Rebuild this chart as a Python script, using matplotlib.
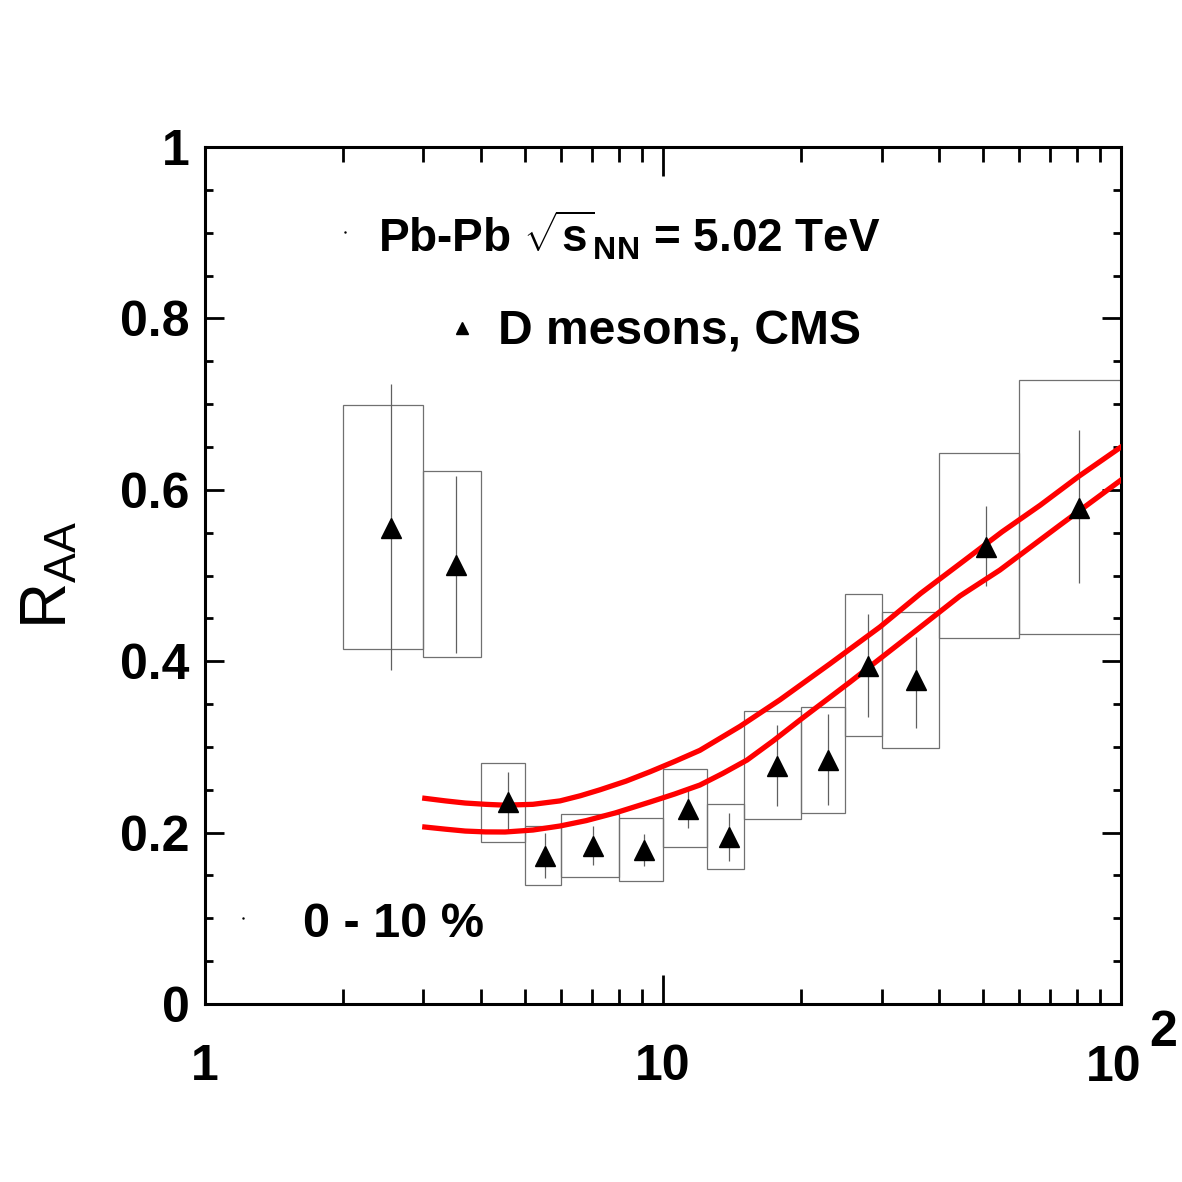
import matplotlib
matplotlib.use('Agg')
import matplotlib.pyplot as plt
from matplotlib.patches import Rectangle

plt.rcParams['font.family'] = ['Liberation Sans', 'DejaVu Sans']
plt.rcParams['mathtext.fontset'] = 'custom'
plt.rcParams['mathtext.rm'] = 'Liberation Sans'
plt.rcParams['mathtext.bf'] = 'Liberation Sans:bold'
plt.rcParams['mathtext.default'] = 'regular'

# D meson R_AA, CMS, 0-10 %
bin_lo = [2, 3, 4, 5, 6, 8, 10, 12.5, 15, 20, 25, 30, 40, 60]
bin_hi = [3, 4, 5, 6, 8, 10, 12.5, 15, 20, 25, 30, 40, 60, 100]
pt = [2.55, 3.53, 4.59, 5.53, 7.03, 9.09, 11.34, 13.94, 17.74, 22.9, 28.0, 35.7, 50.7, 81.0]
raa = [0.555, 0.512, 0.236, 0.173, 0.184, 0.180, 0.228, 0.195, 0.278, 0.285, 0.394, 0.378, 0.533, 0.579]
stat_lo = [0.390, 0.410, 0.203, 0.147, 0.162, 0.161, 0.205, 0.167, 0.231, 0.232, 0.335, 0.322, 0.488, 0.491]
stat_hi = [0.723, 0.616, 0.271, 0.200, 0.208, 0.198, 0.250, 0.223, 0.326, 0.338, 0.455, 0.428, 0.581, 0.670]
syst_lo = [0.414, 0.405, 0.189, 0.139, 0.148, 0.143, 0.183, 0.158, 0.216, 0.223, 0.313, 0.299, 0.427, 0.432]
syst_hi = [0.699, 0.622, 0.281, 0.208, 0.222, 0.217, 0.274, 0.233, 0.342, 0.347, 0.478, 0.457, 0.643, 0.728]

# model band (two red curves)
upper_pt = [3.02, 3.35, 3.70, 4.10, 4.52, 5.20, 5.96, 6.60, 7.29, 8.30, 9.37, 10.6, 12.04, 14.73,
            18.01, 23.15, 29.77, 36.5, 45.6, 55.0, 66.6, 81.0, 100]
upper_raa = [0.240, 0.237, 0.2345, 0.233, 0.232, 0.233, 0.237, 0.243, 0.250, 0.260, 0.271, 0.283,
             0.296, 0.324, 0.355, 0.397, 0.440, 0.479, 0.518, 0.551, 0.582, 0.616, 0.650]
lower_pt = [3.02, 3.35, 3.70, 4.10, 4.52, 5.20, 5.96, 6.80, 7.86, 9.37, 10.6, 12.04, 13.5, 15.26,
            17.4, 19.91, 25.61, 32.92, 44.5, 54.4, 73.6, 100]
lower_raa = [0.2065, 0.204, 0.2018, 0.2008, 0.2007, 0.203, 0.2077, 0.214, 0.2229, 0.2357, 0.245,
             0.2555, 0.269, 0.2847, 0.307, 0.3314, 0.3757, 0.4212, 0.4761, 0.5064, 0.5589, 0.6114]

yticks = [0, 0.2, 0.4, 0.6, 0.8, 1]
ytick_labels = ['0', '0.2', '0.4', '0.6', '0.8', '1']

fig = plt.figure(figsize=(11.82, 11.82), dpi=100)
ax = fig.add_axes([0.1734, 0.1506, 0.775, 0.725])
ax.set_xscale('log')

# systematic boxes
for lo, hi, slo, shi in zip(bin_lo, bin_hi, syst_lo, syst_hi):
    ax.add_patch(Rectangle((lo, slo), hi - lo, shi - slo, fill=False,
                           edgecolor='#707070', linewidth=0.9, zorder=2))

# statistical errors
ax.vlines(pt, stat_lo, stat_hi, color='#606060', linewidth=0.9, zorder=3)

# model curves
ax.plot(upper_pt, upper_raa, color='red', linewidth=3.8, zorder=4)
ax.plot(lower_pt, lower_raa, color='red', linewidth=3.8, zorder=4)

# data points
ax.plot(pt, raa, '^', color='black', markersize=14, zorder=5)

ax.set_xlim(1, 100)
ax.set_ylim(0, 1)

# ticks
ax.set_xticks([1, 10, 100], labels=['1', '10', ''])
ax.set_xticks([2, 3, 4, 5, 6, 7, 8, 9, 20, 30, 40, 50, 60, 70, 80, 90], minor=True)
ax.xaxis.set_minor_formatter(plt.NullFormatter())
ax.set_yticks(yticks, labels=ytick_labels)
ax.set_yticks([i * 0.05 for i in range(21)], minor=True)

ax.tick_params(which='both', direction='in', top=True, right=True, width=2)
ax.xaxis.set_tick_params(which='major', length=21, pad=29)
ax.xaxis.set_tick_params(which='minor', length=11)
ax.yaxis.set_tick_params(which='major', length=14, pad=11)
ax.yaxis.set_tick_params(which='minor', length=6)
for lab in ax.get_xticklabels() + ax.get_yticklabels():
    lab.set_fontsize(36)
    lab.set_fontweight('bold')
for sp in ax.spines.values():
    sp.set_linewidth(2.2)

# 10^2 label at the right end of x axis
fig.text(1114 / 1182, 1 - 1045 / 1182, '10', fontsize=36, fontweight='bold',
         ha='center', va='top')
fig.text(1149 / 1182, 1 - 1010 / 1182, '2', fontsize=36, fontweight='bold',
         ha='left', va='top')

# y axis title
fig.text(50 / 1182, 1 - 575 / 1182, r'R$_{AA}$', fontsize=46, rotation=90,
         ha='center', va='center')

# legend / annotations
fig.text(378 / 1182, 1 - 252 / 1182, r'Pb-Pb $\sqrt{s}_{NN}$ = 5.02 TeV',
         fontsize=33, fontweight='bold', ha='left', va='baseline')
fig.text(498 / 1182, 1 - 345 / 1182, 'D mesons, CMS',
         fontsize=34.6, fontweight='bold', ha='left', va='baseline')
fig.text(303 / 1182, 1 - 937 / 1182, '0 - 10 %',
         fontsize=35, fontweight='bold', ha='left', va='baseline')
ax.plot([462 / 1182], [1 - 328 / 1182], '^', color='black', markersize=8,
        transform=fig.transFigure, clip_on=False)
ax.plot([345 / 1182, 243 / 1182], [1 - 232 / 1182, 1 - 918 / 1182], '.',
        color='black', markersize=1.5, transform=fig.transFigure, clip_on=False)

fig.savefig('out.png', dpi=100, facecolor='white')
